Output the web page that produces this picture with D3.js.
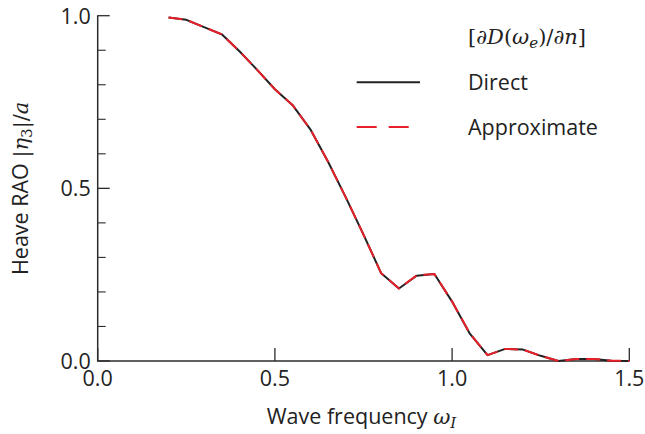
<!DOCTYPE html>
<html>
<head>
<meta charset="utf-8">
<script src="https://cdn.jsdelivr.net/npm/d3@7/dist/d3.min.js"></script>
<style>
  html, body { margin: 0; padding: 0; background: #fff; }
  svg { display: block; }
  .sans { font-family: "Open Sans", "Liberation Sans", sans-serif; }
  .math { font-family: "DejaVu Serif", "Liberation Serif", serif; }
</style>
</head>
<body>
<svg id="chart" width="645" height="434"></svg>
<script>
// ---- data ----
const omega = [0.20, 0.25, 0.30, 0.35, 0.40, 0.45, 0.50, 0.55, 0.60, 0.65, 0.70, 0.75, 0.80, 0.85, 0.90, 0.95, 1.00, 1.05, 1.10, 1.15, 1.20, 1.25, 1.30, 1.35, 1.40, 1.45, 1.50];
const direct = [0.995, 0.988, 0.967, 0.946, 0.897, 0.843, 0.787, 0.741, 0.671, 0.577, 0.474, 0.366, 0.254, 0.210, 0.247, 0.252, 0.172, 0.079, 0.017, 0.035, 0.033, 0.015, 0.000, 0.006, 0.006, 0.001, 0.000];
const approximate = [0.995, 0.988, 0.967, 0.946, 0.897, 0.843, 0.787, 0.741, 0.671, 0.577, 0.474, 0.366, 0.254, 0.210, 0.248, 0.252, 0.172, 0.080, 0.017, 0.035, 0.033, 0.015, 0.000, 0.006, 0.006, 0.001, 0.000];
const xTicks = [0.0, 0.5, 1.0, 1.5];
const yTicks = [0.0, 0.5, 1.0];
const yMinorTicks = [0.1, 0.2, 0.3, 0.4, 0.6, 0.7, 0.8, 0.9];
const seriesNames = ["Direct", "Approximate"];

// ---- layout ----
const svg = d3.select("#chart");
const L = 97.7, R = 629.3, T = 15.7, B = 361;
const x = d3.scaleLinear().domain([0, 1.5]).range([L, R]);
const y = d3.scaleLinear().domain([0, 1]).range([B, T]);
const axisColor = "#2b2b2b";
const fs = 21.5;
const fm = 21;

// axes lines
const gAx = svg.append("g");
gAx.append("line").attr("x1", L).attr("x2", L).attr("y1", B).attr("y2", T - 0.5)
  .attr("stroke", axisColor).attr("stroke-width", 1.5);
gAx.append("line").attr("x1", L - 0.7).attr("x2", R).attr("y1", B).attr("y2", B)
  .attr("stroke", axisColor).attr("stroke-width", 1.5);

// y ticks (inward)
yTicks.forEach(v => {
  gAx.append("line").attr("x1", L).attr("x2", L + 12).attr("y1", y(v)).attr("y2", y(v))
    .attr("stroke", axisColor).attr("stroke-width", 1.3);
  gAx.append("text").attr("class", "sans").attr("x", L - 7).attr("y", y(v) + 7.8)
    .attr("text-anchor", "end").attr("font-size", fs).attr("fill", "#222")
    .text(v.toFixed(1));
});
yMinorTicks.forEach(v => {
  gAx.append("line").attr("x1", L).attr("x2", L + 8).attr("y1", y(v)).attr("y2", y(v))
    .attr("stroke", axisColor).attr("stroke-width", 1.1);
});
// x ticks (inward)
xTicks.forEach(v => {
  gAx.append("line").attr("x1", x(v)).attr("x2", x(v)).attr("y1", B).attr("y2", B - 13)
    .attr("stroke", axisColor).attr("stroke-width", 1.3);
  gAx.append("text").attr("class", "sans").attr("x", x(v)).attr("y", B + 24.5)
    .attr("text-anchor", "middle").attr("font-size", fs).attr("fill", "#222")
    .text(v.toFixed(1));
});

// axis titles
const xt = svg.append("text").attr("x", (L + R) / 2 - 2).attr("y", 424)
  .attr("text-anchor", "middle").attr("font-size", fs).attr("fill", "#222");
xt.append("tspan").attr("class", "sans").text("Wave frequency ");
xt.append("tspan").attr("class", "math").attr("font-style", "italic").attr("font-size", fm).text("ω");
xt.append("tspan").attr("class", "math").attr("font-style", "italic").attr("font-size", 15).attr("dy", 4).text("I");

const yt = svg.append("text").attr("transform", `translate(28,${(T + B) / 2}) rotate(-90)`)
  .attr("text-anchor", "middle").attr("font-size", fs).attr("fill", "#222");
yt.append("tspan").attr("class", "sans").text("Heave RAO ");
yt.append("tspan").attr("class", "math").attr("font-size", fm).text("|");
yt.append("tspan").attr("class", "math").attr("font-size", fm).attr("font-style", "italic").text("η");
yt.append("tspan").attr("class", "math").attr("font-size", 15).attr("dy", 4).text("3");
yt.append("tspan").attr("class", "math").attr("font-size", fm).attr("dy", -4).text("|/");
yt.append("tspan").attr("class", "math").attr("font-size", fm).attr("font-style", "italic").text("a");

// ---- lines ----
const line = d3.line().x(d => x(d[0])).y(d => y(d[1]));
const dDirect = omega.map((w, i) => [w, direct[i]]);
const dApprox = omega.map((w, i) => [w, approximate[i]]);
svg.append("path").datum(dDirect).attr("d", line).attr("fill", "none")
  .attr("stroke", "#222").attr("stroke-width", 2).attr("stroke-linejoin", "round");
svg.append("path").datum(dApprox).attr("d", line).attr("fill", "none")
  .attr("stroke", "#e8202a").attr("stroke-width", 2).attr("stroke-dasharray", "14,7");

// ---- legend ----
const lg = svg.append("g");
const lx = 468;
const title = lg.append("text").attr("class", "math").attr("x", lx).attr("y", 44)
  .attr("font-size", fm).attr("fill", "#222");
title.append("tspan").text("[∂");
title.append("tspan").attr("font-style", "italic").text("D");
title.append("tspan").text("(");
title.append("tspan").attr("font-style", "italic").text("ω");
title.append("tspan").attr("font-style", "italic").attr("font-size", 15).attr("dy", 4).text("e");
title.append("tspan").attr("dy", -4).text(")/∂");
title.append("tspan").attr("font-style", "italic").text("n");
title.append("tspan").text("]");

const entries = [
  { name: seriesNames[0], color: "#222", dash: null, yy: 82.3 },
  { name: seriesNames[1], color: "#e8202a", dash: "20,12", yy: 127 }
];
entries.forEach(e => {
  const ln = lg.append("line").attr("x1", 356.7).attr("x2", 420).attr("y1", e.yy).attr("y2", e.yy)
    .attr("stroke", e.color).attr("stroke-width", 2);
  if (e.dash) ln.attr("stroke-dasharray", e.dash);
  lg.append("text").attr("class", "sans").attr("x", lx).attr("y", e.yy + 7.8)
    .attr("font-size", fs).attr("fill", "#222").text(e.name);
});
</script>
</body>
</html>
